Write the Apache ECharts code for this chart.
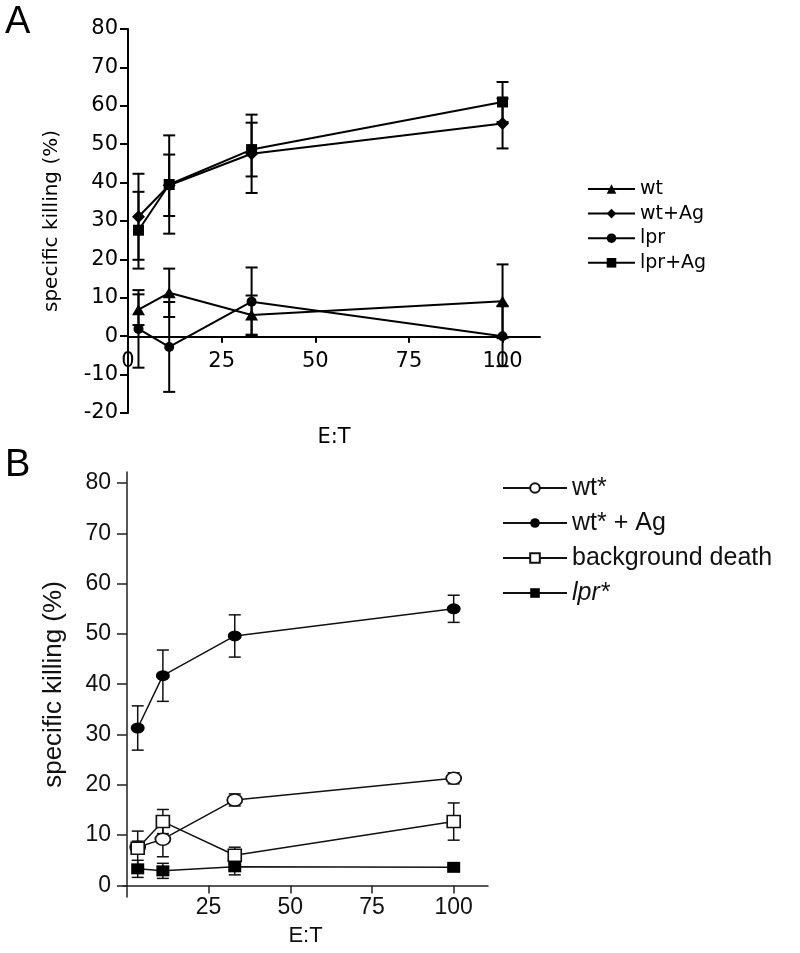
<!DOCTYPE html>
<html>
<head>
<meta charset="utf-8">
<script src="https://cdn.jsdelivr.net/npm/echarts@6/dist/echarts.min.js"></script>
<style>
html,body{margin:0;padding:0;background:#fff;}
#chart{width:800px;height:953px;}
</style>
</head>
<body>
<div id="chart"></div>
<script>
// ---------- Panel A data ----------
const ET_A = [2.8, 11, 33, 100];
const xTicksA = [0, 25, 50, 75, 100];
const yTicksA = [-20, -10, 0, 10, 20, 30, 40, 50, 60, 70, 80];
const wt = [6.9, 11.3, 5.5, 9.1];
const wtErr = [4.0, 6.3, 5.1, 9.6];
const wtAg = [31.1, 39.3, 47.5, 55.4];
const wtAgErr = [11.2, 8.0, 10.2, 6.5];
const lpr = [1.9, -2.8, 9.0, 0.0];
const lprErr = [10.1, 11.7, 8.9, 7.8];
const lprAg = [27.6, 39.5, 48.6, 61.0];
const lprAgErr = [10.0, 12.8, 7.0, 5.2];
const namesA = ['wt', 'wt+Ag', 'lpr', 'lpr+Ag'];

// ---------- Panel B data ----------
const ET_B = [3.3, 11, 33, 100];
const xTicksB = [25, 50, 75, 100];
const yTicksB = [0, 10, 20, 30, 40, 50, 60, 70, 80];
const wtS = [7.6, 9.2, 17.0, 21.3];
const wtSErr = [1.2, 3.5, 1.2, 1.1];
const wtSAg = [31.3, 41.7, 49.6, 55.0];
const wtSAgErr = [4.4, 5.1, 4.2, 2.7];
const bg = [7.4, 12.7, 6.0, 12.7];
const bgErr = [3.4, 2.4, 1.6, 3.7];
const lprS = [3.3, 2.9, 3.7, 3.6];
const lprSErr = [1.7, 1.5, 1.6, 0.4];
const namesB = ['wt*', 'wt* + Ag', 'background death', 'lpr*'];

const pts = (xs, ys) => xs.map((x, i) => [x, ys[i]]);
const errs = (xs, ys, es) => xs.map((x, i) => [x, ys[i] - es[i], ys[i] + es[i]]);

function errRender(capHalf, lw, color) {
  return function (params, api) {
    const x = api.value(0), lo = api.value(1), hi = api.value(2);
    const p1 = api.coord([x, hi]), p2 = api.coord([x, lo]);
    const st = { stroke: color, lineWidth: lw };
    return {
      type: 'group',
      children: [
        { type: 'line', shape: { x1: p1[0], y1: p1[1], x2: p2[0], y2: p2[1] }, style: st },
        { type: 'line', shape: { x1: p1[0] - capHalf, y1: p1[1], x2: p1[0] + capHalf, y2: p1[1] }, style: st },
        { type: 'line', shape: { x1: p2[0] - capHalf, y1: p2[1], x2: p2[0] + capHalf, y2: p2[1] }, style: st }
      ]
    };
  };
}

function errSeries(data, gi, capHalf, lw, color) {
  return {
    type: 'custom', xAxisIndex: gi, yAxisIndex: gi, data: data,
    encode: { x: 0, y: [1, 2] }, renderItem: errRender(capHalf, lw, color),
    clip: false, silent: true, z: 1
  };
}

const fA = 'DejaVu Sans';
const fB = 'Liberation Sans';

function lineA(name, data, symbol, size) {
  return {
    name: name, type: 'line', xAxisIndex: 0, yAxisIndex: 0, data: data,
    symbol: symbol, symbolSize: size, z: 3,
    lineStyle: { color: '#000', width: 2 },
    itemStyle: { color: '#000', borderColor: '#000', borderWidth: 0 }
  };
}
function lineB(name, data, symbol, size, open) {
  return {
    name: name, type: 'line', xAxisIndex: 1, yAxisIndex: 1, data: data,
    symbol: symbol, symbolSize: size, z: 3,
    lineStyle: { color: '#111', width: 1.5 },
    itemStyle: open ? { color: '#fff', borderColor: '#111', borderWidth: 1.6 }
                    : { color: '#000', borderColor: '#000', borderWidth: 0 }
  };
}

const chart = echarts.init(document.getElementById('chart'), null, { renderer: 'canvas' });
chart.setOption({
  animation: false,
  backgroundColor: '#fff',
  graphic: [
    { type: 'text', left: 5, top: 4, style: { text: 'A', fontSize: 38, fontFamily: fB, fill: '#000' } },
    { type: 'text', left: 5, top: 447, style: { text: 'B', fontSize: 38, fontFamily: fB, fill: '#000' } }
  ],
  grid: [
    { left: 128, right: 260, top: 29, bottom: 540 },
    { left: 123, right: 312, top: 472, bottom: 56 }
  ],
  legend: [
    {
      data: namesA, orient: 'vertical', left: 582, top: 174,
      itemWidth: 47, itemHeight: 12, itemGap: 4.6, selectedMode: false,
      textStyle: { fontFamily: fA, fontSize: 19, lineHeight: 20, color: '#000' }
    },
    {
      data: namesB, orient: 'vertical', left: 497, top: 469,
      itemWidth: 64, itemHeight: 12, itemGap: 7, selectedMode: false,
      formatter: function (n) { return n === 'lpr*' ? '{i|' + n + '}' : n; },
      textStyle: {
        fontFamily: fB, fontSize: 25, lineHeight: 28, color: '#111',
        rich: { i: { fontFamily: fB, fontSize: 25, fontStyle: 'italic', color: '#111' } }
      }
    }
  ],
  xAxis: [
    {
      type: 'value', gridIndex: 0, min: 0, max: 110, offset: -76.3,
      name: 'E:T', nameLocation: 'middle', nameGap: 90,
      nameTextStyle: { fontFamily: fA, fontSize: 21, color: '#000' },
      axisLine: { onZero: false, lineStyle: { color: '#000', width: 2 } },
      axisTick: { customValues: xTicksA, length: 6, lineStyle: { color: '#000', width: 2 } },
      axisLabel: { customValues: xTicksA, margin: 14, fontFamily: fA, fontSize: 21, color: '#000' },
      splitLine: { show: false }
    },
    {
      type: 'value', gridIndex: 1, min: -1.2, max: 110.5, offset: -11.5,
      name: 'E:T', nameLocation: 'middle', nameGap: 39,
      nameTextStyle: { fontFamily: fB, fontSize: 22, color: '#111' },
      axisLine: { onZero: false, lineStyle: { color: '#222', width: 1.5 } },
      axisTick: { customValues: xTicksB, length: 8, lineStyle: { color: '#222', width: 1.5 } },
      axisLabel: { customValues: xTicksB, margin: 11, fontFamily: fB, fontSize: 23, color: '#111' },
      splitLine: { show: false }
    }
  ],
  yAxis: [
    {
      type: 'value', gridIndex: 0, min: -20, max: 80,
      name: 'specific killing (%)', nameLocation: 'middle', nameGap: 66,
      nameTextStyle: { fontFamily: fA, fontSize: 20, color: '#000' },
      axisLine: { onZero: false, lineStyle: { color: '#000', width: 2 } },
      axisTick: { customValues: yTicksA, length: 8, lineStyle: { color: '#000', width: 2 } },
      axisLabel: { customValues: yTicksA, margin: 10, fontFamily: fA, fontSize: 21, color: '#000' },
      splitLine: { show: false }
    },
    {
      type: 'value', gridIndex: 1, min: -2.3, max: 82.2, offset: -4,
      name: 'specific killing (%)', nameLocation: 'middle', nameGap: 60,
      nameTextStyle: { fontFamily: fB, fontSize: 26, color: '#111' },
      axisLine: { onZero: false, lineStyle: { color: '#222', width: 1.5 } },
      axisTick: { customValues: yTicksB, length: 10, lineStyle: { color: '#222', width: 1.5 } },
      axisLabel: { customValues: yTicksB, margin: 16, fontFamily: fB, fontSize: 23, color: '#111' },
      splitLine: { show: false }
    }
  ],
  series: [
    errSeries(errs(ET_A, wt, wtErr), 0, 6, 2, '#000'),
    errSeries(errs(ET_A, wtAg, wtAgErr), 0, 6, 2, '#000'),
    errSeries(errs(ET_A, lpr, lprErr), 0, 6, 2, '#000'),
    errSeries(errs(ET_A, lprAg, lprAgErr), 0, 6, 2, '#000'),
    lineA('wt', pts(ET_A, wt), 'triangle', [13, 11]),
    lineA('wt+Ag', pts(ET_A, wtAg), 'diamond', 13),
    lineA('lpr', pts(ET_A, lpr), 'circle', 10),
    lineA('lpr+Ag', pts(ET_A, lprAg), 'rect', 11),

    errSeries(errs(ET_B, wtS, wtSErr), 1, 6, 1.5, '#111'),
    errSeries(errs(ET_B, wtSAg, wtSAgErr), 1, 6, 1.5, '#111'),
    errSeries(errs(ET_B, bg, bgErr), 1, 6, 1.5, '#111'),
    errSeries(errs(ET_B, lprS, lprSErr), 1, 6, 1.5, '#111'),
    lineB('wt*', pts(ET_B, wtS), 'circle', [15, 12], true),
    lineB('wt* + Ag', pts(ET_B, wtSAg), 'circle', [14, 11], false),
    lineB('background death', pts(ET_B, bg), 'rect', [13, 12], true),
    lineB('lpr*', pts(ET_B, lprS), 'rect', [13, 11], false)
  ]
});
</script>
</body>
</html>
